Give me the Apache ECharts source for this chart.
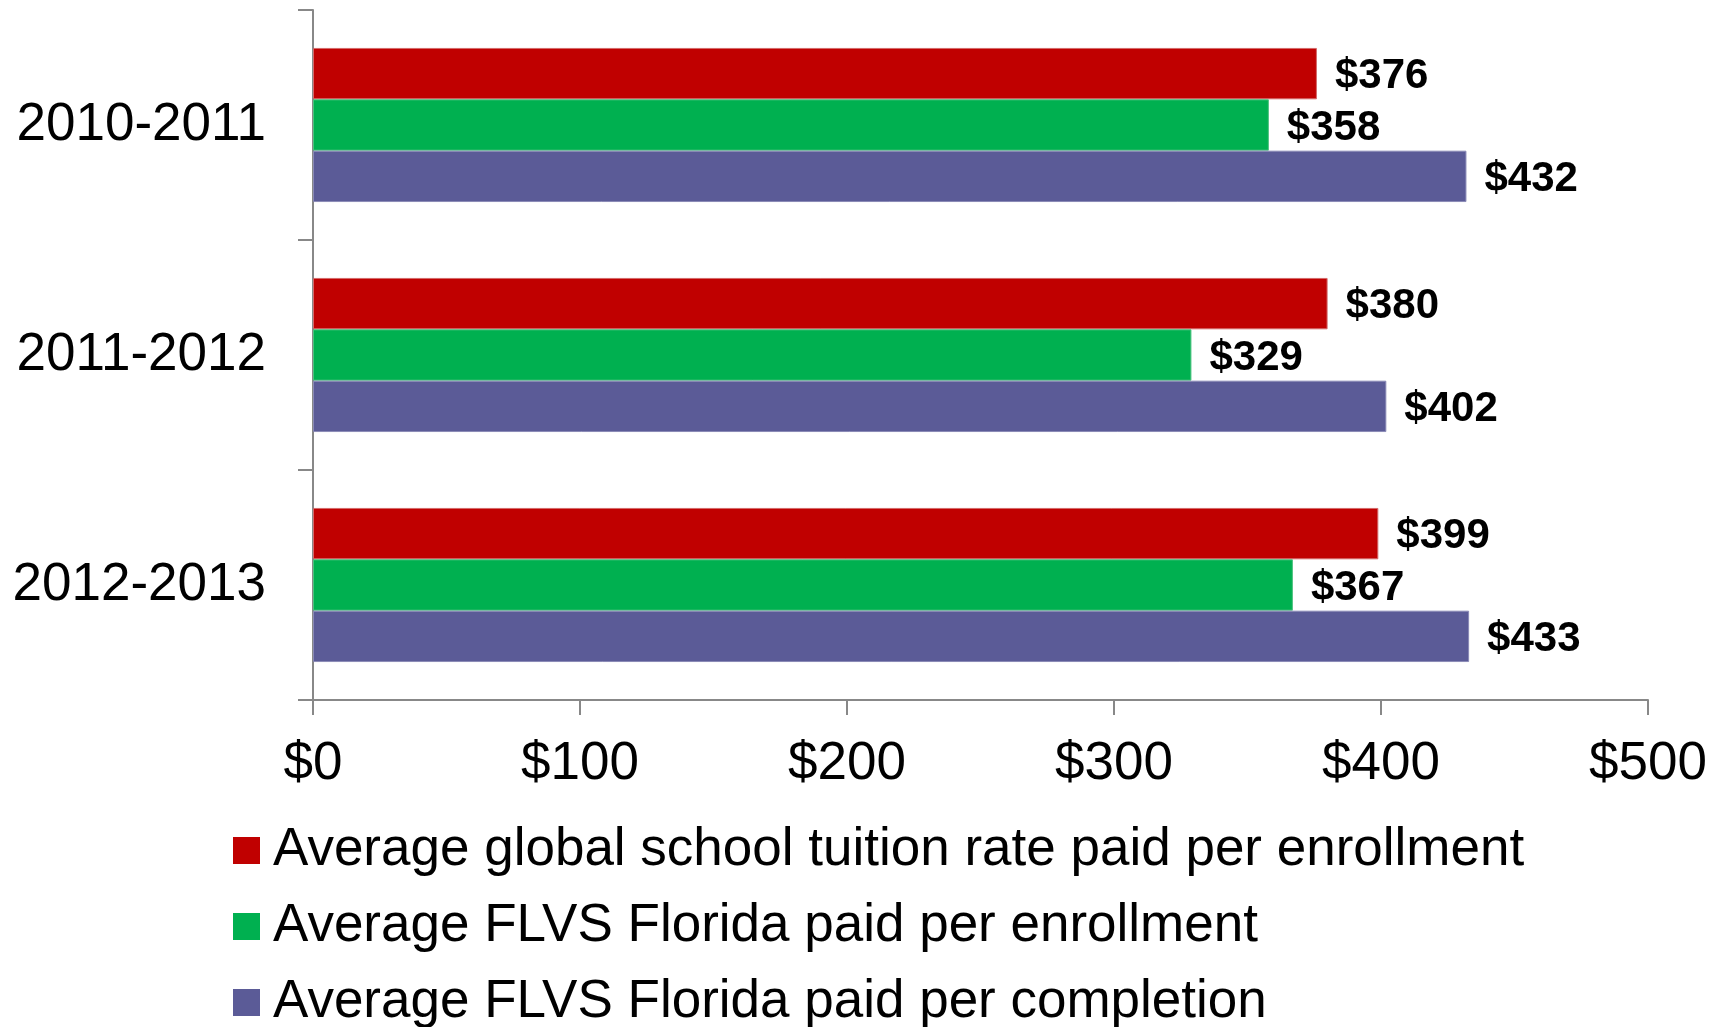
<!DOCTYPE html>
<html>
<head>
<meta charset="utf-8">
<script src="https://cdn.jsdelivr.net/npm/echarts@6/dist/echarts.min.js"></script>
<style>
    html, body { margin: 0; padding: 0; background: #fff; }
    #TuitionContainer { width: 1726px; height: 1027px; }
</style>
</head>
<body>
<div id="TuitionContainer"></div>
<script>
var years = ['2010-2011', '2011-2012', '2012-2013'];
var seriesNames = [
    'Average global school tuition rate paid per enrollment',
    'Average FLVS Florida paid per enrollment',
    'Average FLVS Florida paid per completion'
];
var globalPerEnrollment = [376, 380, 399];
var flvsPerEnrollment = [358, 329, 367];
var flvsPerCompletion = [432, 402, 433];
var xTicks = [0, 100, 200, 300, 400, 500];

function Set_Tuition_echarts() {
    var TuitionContainer = document.getElementById('TuitionContainer');
    var myChart_Tuition = echarts.init(TuitionContainer, null, {
        renderer: 'canvas',
        useDirtyRect: false
    });

    var font = "'Liberation Sans', Arial, sans-serif";
    var colors = ['#C00000', '#00B050', '#5B5B97'];
    var borders = ['#D46A6A', '#4CC27F', '#8A8AB6'];
    var allData = [globalPerEnrollment, flvsPerEnrollment, flvsPerCompletion];
    var legendTops = [824, 900, 976];

    var series = [];
    var legends = [];
    for (var i = 0; i < seriesNames.length; i++) {
        series.push({
            name: seriesNames[i],
            type: 'bar',
            barGap: '0%',
            barCategoryGap: '33%',
            data: allData[i],
            itemStyle: {
                color: colors[i],
                borderColor: borders[i],
                borderWidth: 1
            },
            label: {
                show: true,
                position: 'right',
                distance: 18,
                offset: [0, 3],
                formatter: '${c}',
                fontFamily: font,
                fontWeight: 'bold',
                fontSize: 42,
                color: '#000'
            }
        });
        // one legend per row so it never wraps into columns
        legends.push({
            left: 233,
            top: legendTops[i],
            padding: 0,
            itemWidth: 27,
            itemHeight: 27,
            icon: 'rect',
            itemStyle: { borderWidth: 0 },
            data: [seriesNames[i]],
            textStyle: {
                fontFamily: font,
                fontSize: 53,
                color: '#000',
                padding: [0, 0, 0, 8]
            }
        });
    }

    var option = {
        animation: false,
        color: colors,
        grid: {
            left: 313,
            right: 78,
            top: 10,
            bottom: 327,
            containLabel: false
        },
        legend: legends,
        xAxis: {
            type: 'value',
            min: xTicks[0],
            max: xTicks[xTicks.length - 1],
            interval: 100,
            splitLine: { show: false },
            axisLine: { show: true, lineStyle: { color: '#888', width: 2 } },
            axisTick: { show: true, length: 15, lineStyle: { color: '#888', width: 2 } },
            axisLabel: {
                formatter: '${value}',
                margin: 38,
                fontFamily: font,
                fontSize: 53,
                color: '#000'
            }
        },
        yAxis: {
            type: 'category',
            inverse: true,
            data: years,
            axisLine: { show: true, lineStyle: { color: '#888', width: 2 } },
            axisTick: { show: true, length: 15, lineStyle: { color: '#888', width: 2 } },
            axisLabel: {
                margin: 47,
                fontFamily: font,
                fontSize: 53,
                color: '#000'
            }
        },
        series: series
    };

    if (option && typeof option === 'object') {
        myChart_Tuition.setOption(option);
    }

    window.addEventListener('resize', myChart_Tuition.resize);
}

Set_Tuition_echarts();
</script>
</body>
</html>
